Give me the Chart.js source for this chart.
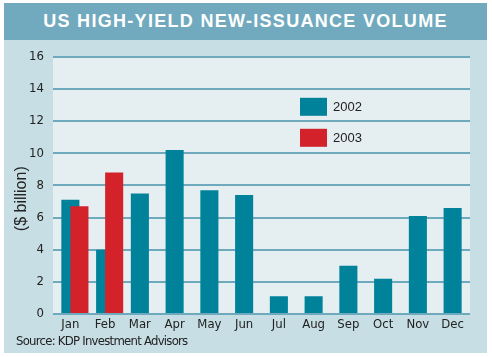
<!DOCTYPE html>
<html><head><meta charset="utf-8">
<script src="https://cdn.jsdelivr.net/npm/chart.js@4/dist/chart.umd.min.js"></script>
<style>
html,body{margin:0;padding:0;background:#fff;width:492px;height:357px;overflow:hidden;}
#panel{position:absolute;left:4px;top:3px;width:483px;height:350px;background:#c6dee4;}
#title{position:absolute;left:0;top:0;width:483px;height:37px;background:#71aabe;color:#fff;font:bold 18px "Liberation Sans",Arial,sans-serif;letter-spacing:1.3px;text-align:center;line-height:37px;white-space:nowrap;}
#wrap{position:absolute;left:0;top:37px;width:483px;height:313px;}
#source{position:absolute;left:12px;top:330px;font:13px "Liberation Sans Narrow","DejaVu Sans Condensed",sans-serif;letter-spacing:-0.75px;line-height:15px;color:#222;white-space:nowrap;}
</style>
</head><body>
<div id="panel">
  <div id="title">US HIGH-YIELD NEW-ISSUANCE VOLUME</div>
  <div id="wrap"><canvas id="c" width="483" height="313"></canvas></div>
  <div id="source">Source: KDP Investment Advisors</div>
</div>
<script>
const months = ['Jan','Feb','Mar','Apr','May','Jun','Jul','Aug','Sep','Oct','Nov','Dec'];
const volume2002 = [7.1, 4.0, 7.5, 10.2, 7.7, 7.4, 1.1, 1.1, 3.0, 2.2, 6.1, 6.6];
const volume2003 = [6.7, 8.8];
const yTicks = [0, 2, 4, 6, 8, 10, 12, 14, 16];
const seriesLabels = ['2002', '2003'];
const yAxisTitle = '($ billion)';

const narrow = '"Liberation Sans Narrow","DejaVu Sans Condensed",sans-serif';
const shift2003 = 0.26; // category fraction the 2003 bars sit to the right
const barFrac = 0.52;   // bar width as fraction of a category slot

const plotBg = {
  id: 'plotBg',
  beforeDraw(chart) {
    const {ctx, chartArea: a} = chart;
    ctx.save();
    ctx.fillStyle = '#e5eef1';
    ctx.fillRect(a.left, a.top, a.right - a.left, a.bottom - a.top);
    ctx.restore();
  }
};

const boxLegend = {
  id: 'boxLegend',
  afterDatasetsDraw(chart) {
    const {ctx, chartArea: a} = chart;
    ctx.save();
    ctx.font = '13px "Liberation Sans",Arial,sans-serif';
    ctx.textBaseline = 'middle';
    chart.data.datasets.forEach((ds, i) => {
      const x = a.left + 247, y = a.top + 41 + i * 31;
      ctx.fillStyle = ds.backgroundColor;
      ctx.fillRect(x, y, 27, 18);
      ctx.fillStyle = '#222';
      ctx.fillText(ds.label, x + 33, y + 9.5);
    });
    ctx.restore();
  }
};

new Chart(document.getElementById('c'), {
  type: 'bar',
  data: {
    labels: months,
    datasets: [
      {label: seriesLabels[0], data: volume2002, xAxisID: 'x', backgroundColor: '#00839a',
       grouped: false, categoryPercentage: 1, barPercentage: barFrac, order: 1},
      {label: seriesLabels[1], data: volume2003.map((v, i) => ({x: i, y: v})), xAxisID: 'x2', backgroundColor: '#d3222a',
       grouped: false, categoryPercentage: 1, barPercentage: barFrac, order: 0}
    ]
  },
  options: {
    responsive: false,
    animation: false,
    devicePixelRatio: 1,
    layout: {padding: {top: 12, right: 17, left: 0, bottom: 0}},
    plugins: {legend: {display: false}, tooltip: {enabled: false}, title: {display: false}},
    scales: {
      x: {
        type: 'category', offset: true,
        grid: {display: false, drawTicks: false}, border: {display: false},
        ticks: {color: '#222', font: {family: narrow, size: 13}, padding: 3, maxRotation: 0, autoSkip: false},
        afterFit: s => { s.height = 39; }
      },
      x2: {
        type: 'linear', display: false, offset: false,
        grid: {offset: false},
        min: -0.5 - shift2003, max: 11.5 - shift2003
      },
      y: {
        min: 0, max: 16,
        afterBuildTicks: s => { s.ticks = yTicks.map(v => ({value: v})); },
        grid: {color: '#6fa9bd', lineWidth: 2, drawTicks: false},
        border: {display: false},
        ticks: {color: '#222', font: {family: narrow, size: 13}, padding: 9},
        title: {display: true, text: yAxisTitle + '      ', color: '#222', font: {family: '"Liberation Sans",Arial,sans-serif', size: 16}, padding: {top: 8, bottom: 0}},
        afterFit: s => { s.width = 49; }
      }
    }
  },
  plugins: [plotBg, boxLegend]
});
</script>
</body></html>
